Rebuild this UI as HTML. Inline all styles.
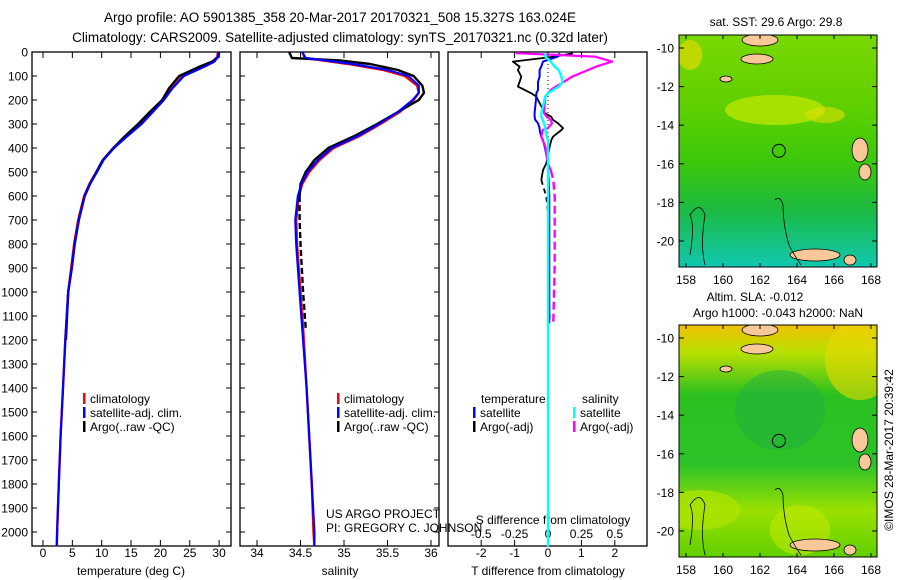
<!DOCTYPE html>
<html><head><meta charset="utf-8"><style>
body{margin:0;background:#fff;}
svg{display:block;font-family:"Liberation Sans",sans-serif;}
</style></head><body>
<svg id="c" width="900" height="580" viewBox="0 0 900 580" xmlns="http://www.w3.org/2000/svg">
<defs>
<linearGradient id="g1" x1="0" y1="0" x2="0" y2="1">
<stop offset="0" stop-color="#7ad800"/><stop offset="0.3" stop-color="#5fd000"/><stop offset="0.55" stop-color="#3cc80c"/><stop offset="0.75" stop-color="#1cba40"/><stop offset="1" stop-color="#10c8b0"/></linearGradient>
<linearGradient id="g2" x1="0" y1="0" x2="0" y2="1">
<stop offset="0" stop-color="#f0c000"/><stop offset="0.12" stop-color="#b8e000"/><stop offset="0.3" stop-color="#2cc020"/><stop offset="0.6" stop-color="#2cc228"/><stop offset="0.8" stop-color="#9ae000"/><stop offset="1" stop-color="#60d000"/></linearGradient>
<clipPath id="clip0"><rect x="679" y="35" width="198" height="232"/></clipPath>
<clipPath id="clip290"><rect x="679" y="325" width="198" height="232"/></clipPath>
</defs>
<text x="340" y="22" font-size="13.5" text-anchor="middle">Argo profile: AO 5901385_358 20-Mar-2017 20170321_508 15.327S 163.024E</text>
<text x="340" y="42" font-size="13.5" text-anchor="middle">Climatology: CARS2009. Satellite-adjusted climatology: synTS_20170321.nc (0.32d later)</text>
<g id="plots"></g>
</svg>
<script>
// ---- data ----
const tDepth=[0,20,40,60,100,150,200,250,300,350,400,450,500,550,600,700,800,900,1000,1200,1400,1600,1800,2000,2060];
const tClim=[29.8,29.7,29.0,27.5,23.8,22.0,20.5,18.5,16.6,14.2,12.0,10.2,9.1,7.9,7.0,6.0,5.3,4.8,4.3,3.8,3.4,3.0,2.7,2.4,2.35];
const tSat=[29.9,29.8,29.2,27.6,24.0,22.1,20.6,18.7,16.8,14.4,12.1,10.3,9.2,8.0,7.1,6.1,5.4,4.9,4.3,3.8,3.4,3.0,2.7,2.4,2.35];
const tArgo=[30.0,29.9,28.8,26.8,23.2,21.5,20.3,18.2,16.2,14.0,12.0,10.2,9.1,8.0,7.1,6.1,5.4,4.9,4.3,3.9];
const sDepth=[0,25,35,50,75,100,140,170,200,250,300,350,400,450,500,550,600,700,800,1000,1150,1400,1600,1800,2000,2060];
const sClim=[34.52,34.55,34.75,35.05,35.45,35.70,35.84,35.86,35.80,35.64,35.42,35.18,34.88,34.72,34.60,34.52,34.48,34.45,34.46,34.50,34.53,34.57,34.60,34.63,34.65,34.66];
const sSat=[34.52,34.56,34.78,35.10,35.50,35.74,35.86,35.86,35.79,35.62,35.40,35.16,34.86,34.70,34.58,34.51,34.47,34.44,34.45,34.49,34.52,34.57,34.60,34.63,34.66,34.66];
const sArgo=[34.37,34.40,34.95,35.30,35.62,35.80,35.90,35.92,35.86,35.62,35.38,35.12,34.82,34.66,34.56,34.50,34.49,34.49,34.50,34.53,34.56];
const dDepth=[5,19,40,61,75,103,124,144,158,172,186,254,270,283,297,317,325,353,367,394,464,492,533,603,671,880,1130];
const dTArgo=[0.75,0.2,-1.05,-0.85,-0.9,-0.8,-0.85,-0.9,-0.7,-0.5,-0.35,-0.1,0.1,0.15,0.3,0.45,0.4,0.15,0.1,0.05,-0.05,-0.15,-0.2,-0.05,0.0,0.0,0.05];
const dTSat=[0.35,0.3,-0.15,-0.2,-0.25,-0.25,-0.3,-0.3,-0.3,-0.35,-0.35,-0.4,-0.4,-0.38,-0.3,-0.25,-0.25,-0.2,-0.15,-0.1,0.0,0.0,0.02,0.04,0.04,0.04,0.04];
const dSSat=[-0.02,-0.02,0.02,0.05,0.08,0.1,0.11,0.08,0.04,0.0,-0.02,-0.05,-0.05,-0.04,-0.03,-0.02,-0.02,-0.01,0,0,0,0,0,0,0,0,0];
const dSArgo=[-0.24,0.35,0.48,0.36,0.3,0.18,0.12,0.06,0.02,0.0,-0.02,-0.03,-0.01,0.02,0.03,0.0,-0.04,-0.05,-0.04,-0.02,0.0,0.02,0.04,0.05,0.05,0.05,0.04];
const depthTicks=[0,100,200,300,400,500,600,700,800,900,1000,1100,1200,1300,1400,1500,1600,1700,1800,1900,2000];
const tTicks=[0,5,10,15,20,25,30];
const sTicks=[34,34.5,35,35.5,36];
const dTTicks=[-2,-1,0,1,2];
const dSTicks=[-0.5,-0.25,0,0.25,0.5];
const latTicks=[-10,-12,-14,-16,-18,-20];
const lonTicks=[158,160,162,164,166,168];
// ---- helpers ----
const NS='http://www.w3.org/2000/svg';
const root=document.getElementById('plots');
function mk(tag,at,parent){const e=document.createElementNS(NS,tag);for(const k in at)e.setAttribute(k,at[k]);(parent||root).appendChild(e);return e;}
function txt(x,y,s,anchor,size,name){const e=mk('text',{x:x,y:y,'font-size':size||12,'text-anchor':anchor||'start'});e.textContent=s;


return e;}
const Y=d=>52+d*0.24;
const tX=v=>43+v*5.87;
const sX=v=>257+(v-34)*87;
const dT=v=>548+v*33.4;
const dS=v=>548+v*133.6;
function line(xs,ds,fx,color,w,name,dash){let p='';for(let i=0;i<xs.length;i++)p+=(i?'L':'M')+fx(xs[i]).toFixed(1)+','+Y(ds[i]).toFixed(1);
const e=mk('path',{d:p,fill:'none',stroke:color,'stroke-width':w,'stroke-linejoin':'round'});if(dash)e.setAttribute('stroke-dasharray',dash);

return e;}
function frame(x0,x1,name){const r=mk('rect',{x:x0,y:52,width:x1-x0,height:494,fill:'none',stroke:'#000','stroke-width':1.3});

}
depthTicks.forEach(d=>{txt(28,Y(d)+4.5,String(d),'end',12,'y-tick-label');
mk('line',{x1:32,x2:37,y1:Y(d),y2:Y(d),stroke:'#000'});mk('line',{x1:226,x2:231,y1:Y(d),y2:Y(d),stroke:'#000'});
mk('line',{x1:240,x2:245,y1:Y(d),y2:Y(d),stroke:'#000'});mk('line',{x1:434,x2:439,y1:Y(d),y2:Y(d),stroke:'#000'});});
// panel 1
frame(32,231,'temperature-panel');
tTicks.forEach(v=>{mk('line',{x1:tX(v),x2:tX(v),y1:546,y2:540,stroke:'#000'});mk('line',{x1:tX(v),x2:tX(v),y1:52,y2:58,stroke:'#000'});txt(tX(v),557,String(v),'middle',12,'x-tick-label');});
txt(131,575,'temperature (deg C)','middle',12,'x-axis-title');
line(tClim,tDepth,tX,'#f00',2.4,'temp-climatology-line');
line(tArgo,tDepth.slice(0,tArgo.length),tX,'#000',2.4,'temp-argo-line');
line(tSat,tDepth,tX,'#00f',2.2,'temp-satellite-line');
// panel 2
frame(240,439,'salinity-panel');
sTicks.forEach(v=>{mk('line',{x1:sX(v),x2:sX(v),y1:546,y2:540,stroke:'#000'});mk('line',{x1:sX(v),x2:sX(v),y1:52,y2:58,stroke:'#000'});txt(sX(v),557,String(v),'middle',12,'x-tick-label');});
txt(340,575,'salinity','middle',12,'x-axis-title');
line(sClim,sDepth,sX,'#f00',2.4,'sal-climatology-line');
line(sArgo.slice(0,17),sDepth.slice(0,17),sX,'#000',2.4,'sal-argo-line');
line(sArgo.slice(16),sDepth.slice(16,sArgo.length),sX,'#000',2.4,'sal-argo-deep-line','6,3');
line(sSat,sDepth,sX,'#00f',2.2,'sal-satellite-line');
// panel 3
frame(448,647,'difference-panel');
dTTicks.forEach(v=>{mk('line',{x1:dT(v),x2:dT(v),y1:546,y2:540,stroke:'#000'});mk('line',{x1:dT(v),x2:dT(v),y1:52,y2:58,stroke:'#000'});txt(dT(v),557,String(v),'middle',12,'t-diff-tick-label');});
dSTicks.forEach(v=>{txt(dS(v),538,String(v),'middle',12,'s-diff-tick-label');});
mk('line',{x1:548,x2:548,y1:60,y2:200,stroke:'#000','stroke-dasharray':'1,3'});
txt(548,575,'T difference from climatology','middle',12,'t-diff-axis-title');
txt(553,524,'S difference from climatology','middle',12,'s-diff-axis-title');
line(dTArgo.slice(0,23),dDepth.slice(0,23),dT,'#000',1.8,'t-diff-argo-line');
line(dTArgo.slice(22),dDepth.slice(22),dT,'#000',1.8,'t-diff-argo-deep-line','5,4');
line(dTSat,dDepth,dT,'#00f',2,'t-diff-satellite-line');
line(dSArgo.slice(0,22),dDepth.slice(0,22),dS,'#f0f',2.2,'s-diff-argo-line');
line(dSArgo.slice(21),dDepth.slice(21),dS,'#f0f',2.4,'s-diff-argo-deep-line','8,4');
line(dSSat.concat([0]),dDepth.concat([2060]),dS,'#0ff',2.4,'s-diff-satellite-line');
// legends
function leg(x,y,c,s){mk('rect',{x:x,y:y-10,width:2.5,height:11,fill:c});txt(x+7,y,s,'start',12,'legend-entry');}
leg(83,403,'#f00','climatology');leg(83,417,'#00f','satellite-adj. clim.');leg(83,431,'#000','Argo(..raw -QC)');
leg(337,403,'#f00','climatology');leg(337,417,'#00f','satellite-adj. clim.');leg(337,431,'#000','Argo(..raw -QC)');
txt(481,403,'temperature','start',12,'legend-header');txt(582,403,'salinity','start',12,'legend-header');
leg(473,417,'#00f','satellite');leg(473,431,'#000','Argo(-adj)');leg(573,417,'#0ff','satellite');leg(573,431,'#f0f','Argo(-adj)');
txt(326,518,'US ARGO PROJECT','start',12,'project-label');txt(326,532,'PI: GREGORY C. JOHNSON','start',12,'pi-label');
// maps
function map(oy,grad,title1,title2,name){
 const g=mk('g',{});
 const c=mk('g',{'clip-path':'url(#clip'+oy+')'},g);
 mk('rect',{x:679,y:oy+35,width:198,height:232,fill:'url(#'+grad+')'},c);
 if(grad==='g1'){mk('ellipse',{cx:775,cy:oy+110,rx:50,ry:15,fill:'#c8e800',opacity:0.7},c);mk('ellipse',{cx:825,cy:oy+115,rx:20,ry:8,fill:'#e0e000',opacity:0.6},c);mk('ellipse',{cx:690,cy:oy+55,rx:12,ry:15,fill:'#e0d800',opacity:0.7},c);}
 else{mk('ellipse',{cx:700,cy:oy+220,rx:40,ry:20,fill:'#b0e400',opacity:0.7},c);mk('ellipse',{cx:800,cy:oy+240,rx:30,ry:25,fill:'#c0e800',opacity:0.6},c);mk('ellipse',{cx:860,cy:oy+70,rx:35,ry:40,fill:'#e8d800',opacity:0.6},c);mk('ellipse',{cx:780,cy:oy+120,rx:45,ry:40,fill:'#20b040',opacity:0.5},c);}
 const lx=v=>686+(v-158)*18.5, ly=v=>48+oy+(-10-v)*19.3;
 const land=[[760,oy+40,18,6],[757,oy+59,16,5],[860,oy+150,8,12],[865,oy+172,6,8],[815,oy+255,25,6],[850,oy+260,6,5],[726,oy+79,6,3]];
 land.forEach(l=>mk('ellipse',{cx:l[0],cy:l[1],rx:l[2],ry:l[3],fill:'#f8c898',stroke:'#000','stroke-width':0.8},c));
 mk('path',{d:'M775 '+(oy+200)+' q5 -5 8 5 q0 20 6 40 q5 10 12 20',fill:'none',stroke:'#000','stroke-width':0.8},c);
 mk('path',{d:'M690 '+(oy+255)+' q5 -30 0 -40 q10 -15 15 0 q-5 30 0 50',fill:'none',stroke:'#000','stroke-width':0.8},c);
 mk('circle',{cx:lx(163.024),cy:ly(-15.327),r:6.5,fill:'none',stroke:'#000','stroke-width':1},g);
 mk('rect',{x:679,y:oy+35,width:198,height:232,fill:'none',stroke:'#000','stroke-width':1},g);
 latTicks.forEach(v=>{txt(674,ly(v)+4.5,String(v),'end',12,'lat-tick-label');mk('line',{x1:679,x2:684,y1:ly(v),y2:ly(v),stroke:'#000'},g);mk('line',{x1:872,x2:877,y1:ly(v),y2:ly(v),stroke:'#000'},g);});
 lonTicks.forEach(v=>{txt(lx(v),oy+284,String(v),'middle',12,'lon-tick-label');mk('line',{x1:lx(v),x2:lx(v),y1:oy+35,y2:oy+39,stroke:'#000'},g);mk('line',{x1:lx(v),x2:lx(v),y1:oy+263,y2:oy+267,stroke:'#000'},g);});
 if(title2){txt(755,oy+11,title1,'middle',12,'map-title');txt(778,oy+27,title2,'middle',12,'map-subtitle');}
 else txt(776,oy+26,title1,'middle',12,'map-title');
}
map(0,'g1','sat. SST: 29.6 Argo: 29.8',null,'sst-map');
map(290,'g2','Altim. SLA: -0.012','Argo h1000: -0.043 h2000: NaN','sla-map');
const cr=txt(0,0,'©IMOS 28-Mar-2017 20:39:42','middle',12,'copyright-timestamp');
cr.setAttribute('transform','translate(893,450) rotate(-90)');
</script>
</body></html>
